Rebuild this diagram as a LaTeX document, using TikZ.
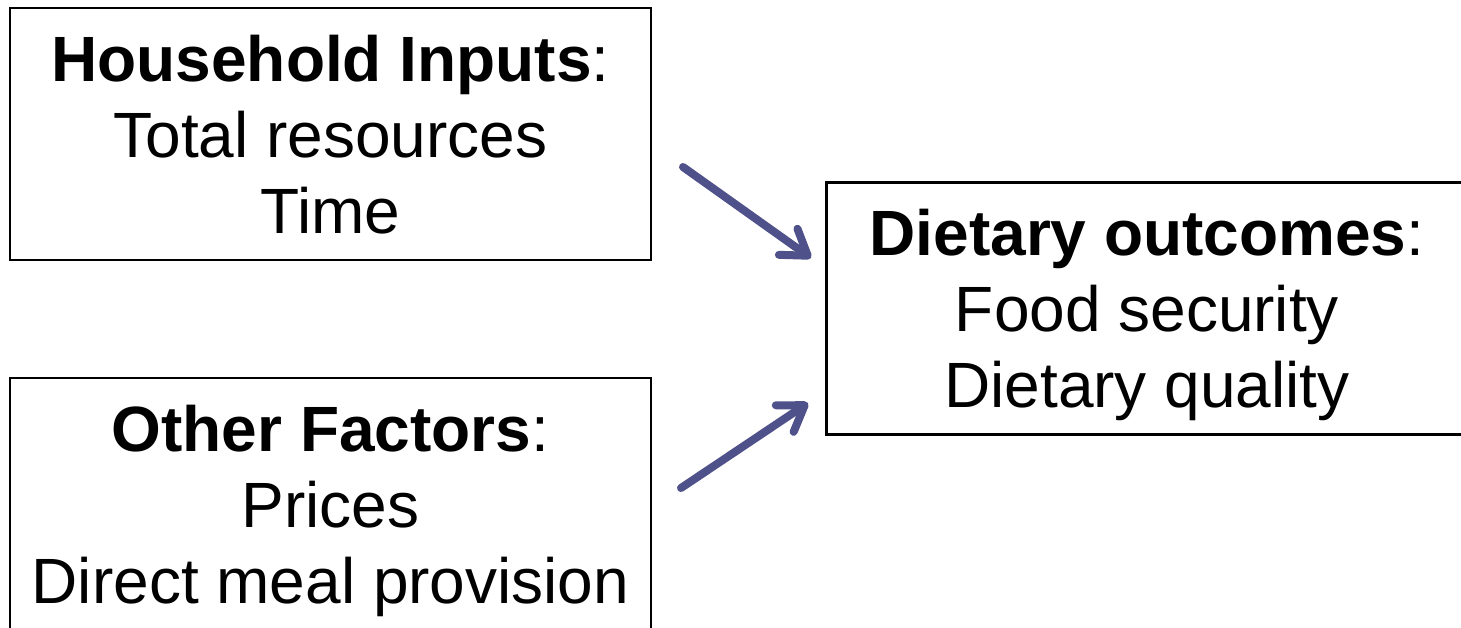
\documentclass[tikz,border=0pt]{standalone}
\usepackage{fontspec}
\setmainfont{Liberation Sans}
\usetikzlibrary{arrows.meta,positioning}
\definecolor{arrowblue}{RGB}{79,81,138}

\begin{document}
\begin{tikzpicture}[x=0.5pt,y=-0.5pt,
	box/.style={draw=black, line width=1.2pt, rectangle, minimum width=320.5pt, minimum height=126pt, align=center, inner sep=0pt, text depth=0pt, font=\fontsize{32}{38}\selectfont},
	flow/.style={-{Straight Barb[length=12pt,width=16pt,round]}, line width=4pt, line cap=round, draw=arrowblue}]
	\useasboundingbox (0,0) rectangle (1461,627);

	\node[box] (inputs) at (330.5,134) {\textbf{Household Inputs}:\\Total resources\\Time};
	\node[box] (factors) at (330.5,504) {\textbf{Other Factors}:\\Prices\\Direct meal provision};
	\node[box] (outcomes) at (1147,308.5) {\textbf{Dietary outcomes}:\\Food security\\Dietary quality};

	\coordinate (in1) at (683,167);
	\coordinate (out1) at (811,258);
	\coordinate (in2) at (681,488);
	\coordinate (out2) at (808,403);

	\draw[flow] (in1) -- (out1);
	\draw[flow] (in2) -- (out2);
\end{tikzpicture}
\end{document}
